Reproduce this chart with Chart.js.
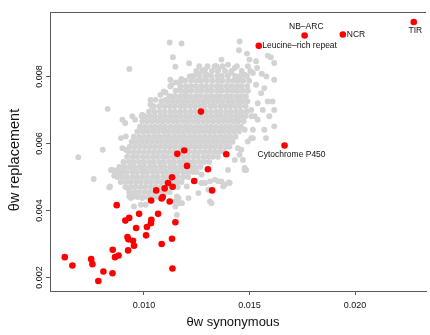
<!DOCTYPE html>
<html>
<head>
<meta charset="utf-8">
<script src="https://cdn.jsdelivr.net/npm/chart.js@4"></script>
<style>
  html, body { margin: 0; padding: 0; background: #fff; }
  #wrap { width: 430px; height: 335px; }
</style>
</head>
<body>
<div id="wrap"><canvas id="plot" width="430" height="335"></canvas></div>
<script>
// theta_w at synonymous vs replacement sites, one point per gene family
const xTicks = [0.010, 0.015, 0.020];
const yTicks = [0.002, 0.004, 0.006, 0.008];

// dense body of the background cloud, one row per replacement level
const coreY = [0.00830, 0.00816, 0.00801, 0.00787, 0.00771, 0.00757, 0.00741, 0.00726, 0.00711,
  0.00695, 0.00681, 0.00666, 0.00650, 0.00636, 0.00620, 0.00605, 0.00590, 0.00575, 0.00560,
  0.00545, 0.00530, 0.00515, 0.00500, 0.00485, 0.00470, 0.00455, 0.00440];
const coreX = [
  [0.01262, 0.01301, 0.01335, 0.01372, 0.01440, 0.01492],
  [0.01248, 0.01276, 0.01322, 0.01350, 0.01384, 0.01415, 0.01463, 0.01504],
  [0.01233, 0.01262, 0.01290, 0.01318, 0.01347, 0.01369, 0.01398, 0.01432, 0.01456, 0.01488],
  [0.01196, 0.01224, 0.01250, 0.01272, 0.01298, 0.01325, 0.01351, 0.01372, 0.01399, 0.01424, 0.01447, 0.01470, 0.01498],
  [0.01172, 0.01198, 0.01221, 0.01245, 0.01270, 0.01293, 0.01318, 0.01344, 0.01365, 0.01390, 0.01414, 0.01440, 0.01462, 0.01489],
  [0.01150, 0.01176, 0.01203, 0.01226, 0.01252, 0.01275, 0.01300, 0.01322, 0.01348, 0.01370, 0.01396, 0.01421, 0.01443, 0.01468, 0.01492],
  [0.01121, 0.01148, 0.01172, 0.01197, 0.01219, 0.01244, 0.01266, 0.01292, 0.01315, 0.01339, 0.01361, 0.01388, 0.01410, 0.01436, 0.01458, 0.01483],
  [0.01083, 0.01110, 0.01136, 0.01160, 0.01184, 0.01206, 0.01232, 0.01255, 0.01280, 0.01302, 0.01327, 0.01350, 0.01373, 0.01399, 0.01421, 0.01446, 0.01468, 0.01490],
  [0.01045, 0.01072, 0.01097, 0.01122, 0.01145, 0.01171, 0.01193, 0.01218, 0.01241, 0.01266, 0.01288, 0.01314, 0.01336, 0.01362, 0.01385, 0.01409, 0.01433, 0.01455, 0.01482],
  [0.01024, 0.01050, 0.01076, 0.01099, 0.01125, 0.01148, 0.01173, 0.01197, 0.01222, 0.01245, 0.01294, 0.01318, 0.01343, 0.01365, 0.01390, 0.01413, 0.01438, 0.01461, 0.01486],
  [0.01003, 0.01028, 0.01052, 0.01078, 0.01101, 0.01126, 0.01150, 0.01173, 0.01198, 0.01220, 0.01246, 0.01268, 0.01293, 0.01316, 0.01340, 0.01364, 0.01388, 0.01411, 0.01436, 0.01458, 0.01480],
  [0.00992, 0.01016, 0.01040, 0.01065, 0.01088, 0.01112, 0.01137, 0.01160, 0.01185, 0.01208, 0.01233, 0.01256, 0.01281, 0.01304, 0.01328, 0.01353, 0.01376, 0.01400, 0.01424, 0.01447, 0.01472],
  [0.00981, 0.01005, 0.01030, 0.01054, 0.01078, 0.01100, 0.01125, 0.01150, 0.01172, 0.01197, 0.01221, 0.01246, 0.01269, 0.01293, 0.01317, 0.01341, 0.01365, 0.01389, 0.01412, 0.01437, 0.01460],
  [0.00969, 0.00994, 0.01018, 0.01043, 0.01066, 0.01091, 0.01114, 0.01139, 0.01162, 0.01187, 0.01210, 0.01235, 0.01258, 0.01283, 0.01307, 0.01330, 0.01355, 0.01378, 0.01402, 0.01426, 0.01450],
  [0.00952, 0.00977, 0.01001, 0.01025, 0.01050, 0.01073, 0.01098, 0.01121, 0.01146, 0.01170, 0.01193, 0.01218, 0.01241, 0.01266, 0.01290, 0.01313, 0.01338, 0.01362, 0.01386, 0.01409, 0.01434],
  [0.00942, 0.00966, 0.00990, 0.01014, 0.01038, 0.01062, 0.01086, 0.01110, 0.01134, 0.01157, 0.01182, 0.01206, 0.01230, 0.01253, 0.01278, 0.01301, 0.01326, 0.01349, 0.01373, 0.01397, 0.01420],
  [0.00933, 0.00957, 0.00981, 0.01005, 0.01029, 0.01053, 0.01077, 0.01101, 0.01125, 0.01148, 0.01173, 0.01196, 0.01220, 0.01244, 0.01268, 0.01292, 0.01316, 0.01339, 0.01363, 0.01388, 0.01405],
  [0.00928, 0.00952, 0.00976, 0.01000, 0.01024, 0.01048, 0.01072, 0.01096, 0.01120, 0.01144, 0.01168, 0.01215, 0.01239, 0.01263, 0.01287, 0.01311, 0.01335, 0.01358, 0.01381],
  [0.00920, 0.00946, 0.00967, 0.00993, 0.01015, 0.01041, 0.01063, 0.01089, 0.01111, 0.01137, 0.01159, 0.01185, 0.01207, 0.01233, 0.01255, 0.01281, 0.01303, 0.01327, 0.01350],
  [0.00903, 0.00929, 0.00950, 0.00976, 0.00998, 0.01024, 0.01046, 0.01072, 0.01094, 0.01120, 0.01142, 0.01168, 0.01190, 0.01216, 0.01238, 0.01264, 0.01286, 0.01310],
  [0.00884, 0.00907, 0.00933, 0.00955, 0.00981, 0.01003, 0.01029, 0.01051, 0.01077, 0.01099, 0.01125, 0.01147, 0.01173, 0.01195, 0.01221, 0.01243, 0.01268],
  [0.00872, 0.00897, 0.00919, 0.00945, 0.00967, 0.00993, 0.01015, 0.01041, 0.01063, 0.01089, 0.01111, 0.01137, 0.01159, 0.01185, 0.01207, 0.01231, 0.01250],
  [0.00874, 0.00899, 0.00921, 0.00947, 0.00969, 0.00995, 0.01017, 0.01043, 0.01065, 0.01091, 0.01113, 0.01139, 0.01161, 0.01187, 0.01210],
  [0.00890, 0.00915, 0.00937, 0.00963, 0.00985, 0.01011, 0.01033, 0.01059, 0.01081, 0.01107, 0.01129, 0.01155, 0.01178],
  [0.00912, 0.00937, 0.00959, 0.00985, 0.01007, 0.01033, 0.01055, 0.01081, 0.01103, 0.01129, 0.01160],
  [0.00930, 0.00955, 0.00977, 0.01003, 0.01025, 0.01051, 0.01073, 0.01099, 0.01122],
  [0.00945, 0.00970, 0.00992, 0.01018, 0.01040, 0.01065]
];

// loose background genes around the cloud and along its ragged edge
const scatterX = [0.01122, 0.01178, 0.01137, 0.01214, 0.01149, 0.00931, 0.01125, 0.01177, 0.01217, 0.01256,
  0.01130, 0.00828, 0.00689, 0.00805, 0.00911, 0.00914, 0.00958, 0.00992, 0.01031, 0.01042,
  0.01094, 0.01102, 0.01133, 0.01172, 0.00762, 0.00836, 0.00875, 0.00922, 0.00953, 0.00938,
  0.00992, 0.01008, 0.01149, 0.01164, 0.01156, 0.01273, 0.01313, 0.01336, 0.01484, 0.01406,
  0.01375, 0.01352, 0.01320, 0.01156, 0.01172, 0.01469, 0.01453, 0.01445, 0.01508, 0.01578,
  0.01492, 0.01273, 0.01289, 0.01313, 0.01453, 0.01450, 0.01488, 0.01500, 0.01531, 0.01536,
  0.01586, 0.01601, 0.01617, 0.01580, 0.01617, 0.01558, 0.01516, 0.01531, 0.01570, 0.01555,
  0.01586, 0.01563, 0.01609, 0.01617, 0.01594, 0.01617, 0.01508, 0.01539, 0.01508, 0.01539,
  0.01570, 0.00844, 0.00839, 0.00898, 0.00989, 0.01039, 0.01102, 0.01151, 0.01195, 0.01383,
  0.01402, 0.01477, 0.01516, 0.01477, 0.01297, 0.01344, 0.01367, 0.01398, 0.01413,
  0.00898, 0.00945, 0.00891, 0.00914, 0.00851, 0.00859, 0.00891, 0.00930, 0.00953, 0.00985,
  0.01055, 0.01078, 0.01031, 0.01125, 0.01172, 0.01226, 0.01289, 0.01352, 0.01430, 0.01477,
  0.01524, 0.01516, 0.01461, 0.01430, 0.01398, 0.01477, 0.01367, 0.01305, 0.01258, 0.01211,
  0.01180, 0.01149, 0.01203];
const scatterY = [0.00901, 0.00898, 0.00857, 0.00839, 0.00829, 0.00822, 0.00790, 0.00792, 0.00800, 0.00808,
  0.00774, 0.00703, 0.00559, 0.00581, 0.00661, 0.00621, 0.00671, 0.00686, 0.00730, 0.00710,
  0.00755, 0.00730, 0.00740, 0.00760, 0.00494, 0.00469, 0.00521, 0.00467, 0.00452, 0.00437,
  0.00437, 0.00417, 0.00427, 0.00437, 0.00387, 0.00482, 0.00427, 0.00492, 0.00521, 0.00482,
  0.00472, 0.00487, 0.00422, 0.00442, 0.00422, 0.00551, 0.00566, 0.00586, 0.00616, 0.00616,
  0.00606, 0.00507, 0.00482, 0.00487, 0.00904, 0.00878, 0.00868, 0.00850, 0.00845, 0.00825,
  0.00862, 0.00857, 0.00840, 0.00800, 0.00790, 0.00808, 0.00810, 0.00775, 0.00765, 0.00750,
  0.00725, 0.00700, 0.00725, 0.00700, 0.00681, 0.00651, 0.00700, 0.00720, 0.00681, 0.00671,
  0.00641, 0.00521, 0.00472, 0.00586, 0.00681, 0.00709, 0.00752, 0.00782, 0.00755, 0.00477,
  0.00484, 0.00521, 0.00616, 0.00641, 0.00805, 0.00830, 0.00850, 0.00835, 0.00811,
  0.00671, 0.00681, 0.00616, 0.00581, 0.00521, 0.00504, 0.00512, 0.00442, 0.00412, 0.00417,
  0.00730, 0.00745, 0.00716, 0.00770, 0.00785, 0.00800, 0.00820, 0.00820, 0.00825, 0.00805,
  0.00681, 0.00641, 0.00581, 0.00551, 0.00521, 0.00527, 0.00487, 0.00462, 0.00452, 0.00437,
  0.00422, 0.00412, 0.00472];

// highlighted families (red)
const redX = [0.00625, 0.00661, 0.00750, 0.00756, 0.00784, 0.00808, 0.00851, 0.00852, 0.00863, 0.00880,
  0.00871, 0.00912, 0.00930, 0.00922, 0.00926, 0.00925, 0.00948, 0.00953, 0.00963, 0.00977,
  0.01010, 0.01014, 0.01033, 0.01035, 0.01034, 0.01058, 0.01067, 0.01084, 0.01084, 0.01089,
  0.01098, 0.01114, 0.01122, 0.01133, 0.01135, 0.01133, 0.01136, 0.01149, 0.01204, 0.01238,
  0.01303, 0.01323, 0.01270, 0.01158, 0.01191, 0.01390];
const redY = [0.00261, 0.00236, 0.00255, 0.00240, 0.00190, 0.00218, 0.00213, 0.00283, 0.00261, 0.00266,
  0.00416, 0.00370, 0.00378, 0.00321, 0.00314, 0.00281, 0.00310, 0.00295, 0.00348, 0.00390,
  0.00326, 0.00351, 0.00362, 0.00372, 0.00430, 0.00460, 0.00390, 0.00300, 0.00436, 0.00440,
  0.00466, 0.00482, 0.00427, 0.00316, 0.00227, 0.00499, 0.00471, 0.00365, 0.00533, 0.00488,
  0.00523, 0.00460, 0.00695, 0.00569, 0.00579, 0.00568];

const namedGenes = ['Leucine\u2013rich repeat', 'NB\u2013ARC', 'NCR', 'TIR', 'Cytochrome P450'];
const namedX = [0.01544, 0.01761, 0.01942, 0.02278, 0.01666];
const namedY = [0.00891, 0.00922, 0.00925, 0.00962, 0.00594];

const axisColor = '#5a5a5a';
const textColor = '#111';
const fontFamily = '"Liberation Sans", Arial, Helvetica, sans-serif';

// where each gene name sits relative to its dot
const nameStyle = [
  { dx: 3.5, dy: 0, align: 'left' },
  { dx: 1.7, dy: -8.5, align: 'center' },
  { dx: 4, dy: 0, align: 'left' },
  { dx: 1.6, dy: 9, align: 'center' },
  { dx: 7, dy: 9, align: 'center' }
];

const greyPoints = coreY.flatMap((y, i) => coreX[i].map(x => ({ x, y })))
  .concat(scatterX.map((x, i) => ({ x, y: scatterY[i] })));
const redPoints = redX.map((x, i) => ({ x, y: redY[i] }));
const namedPoints = namedX.map((x, i) => ({ x, y: namedY[i] }));

const decorations = {
  id: 'decorations',
  afterDatasetsDraw(chart) {
    const { ctx, chartArea } = chart;
    ctx.save();

    // top edge of the box; left and bottom come from the axes
    const t = Math.round(chartArea.top) + 0.5;
    ctx.strokeStyle = axisColor;
    ctx.lineWidth = 1;
    ctx.beginPath();
    ctx.moveTo(chartArea.left, t);
    ctx.lineTo(chartArea.right, t);
    ctx.stroke();

    // gene names
    ctx.fillStyle = textColor;
    ctx.font = '8.5px ' + fontFamily;
    ctx.textBaseline = 'middle';
    chart.getDatasetMeta(0).data.forEach((pt, i) => {
      const s = nameStyle[i];
      ctx.textAlign = s.align;
      ctx.fillText(namedGenes[i], pt.x + s.dx, pt.y + s.dy);
    });

    // axis titles
    ctx.font = '13px ' + fontFamily;
    ctx.textAlign = 'center';
    ctx.fillText('\u03b8w synonymous', chartArea.left + 183, 322);
    ctx.save();
    ctx.translate(15, (chartArea.top + chartArea.bottom) / 2 + 8.5);
    ctx.rotate(-Math.PI / 2);
    ctx.font = '14.5px ' + fontFamily;
    ctx.fillText('\u03b8w replacement', 0, 0);
    ctx.restore();

    ctx.restore();
  }
};

new Chart(document.getElementById('plot'), {
  type: 'scatter',
  data: {
    datasets: [
      { data: namedPoints, backgroundColor: '#ff0000', pointRadius: 3.3, borderWidth: 0, order: 0 },
      { data: redPoints, backgroundColor: '#ff0000', pointRadius: 3.3, borderWidth: 0, order: 1 },
      { data: greyPoints, backgroundColor: '#d3d3d3', pointRadius: 2.95, borderWidth: 0, order: 2 }
    ]
  },
  options: {
    responsive: false,
    animation: false,
    events: [],
    layout: { padding: { top: 12, right: 0, bottom: 0, left: 0 } },
    plugins: { legend: { display: false }, tooltip: { enabled: false } },
    scales: {
      x: {
        type: 'linear',
        min: 0.00555,
        max: 0.02336,
        afterBuildTicks: s => { s.ticks = xTicks.map(v => ({ value: v })); },
        afterFit: s => { s.height = 44; },
        grid: { display: true, drawOnChartArea: false, drawTicks: true, tickLength: 4, color: axisColor },
        border: { display: true, color: axisColor, width: 1 },
        ticks: {
          color: textColor,
          font: { family: fontFamily, size: 9 },
          padding: 5,
          maxRotation: 0,
          callback: v => v.toFixed(3)
        }
      },
      y: {
        type: 'linear',
        min: 0.0016,
        max: 0.00992,
        afterBuildTicks: s => { s.ticks = yTicks.map(v => ({ value: v })); },
        afterFit: s => { s.width = 50; },
        grid: { display: true, drawOnChartArea: false, drawTicks: true, tickLength: 4, color: axisColor },
        border: { display: true, color: axisColor, width: 1 },
        ticks: {
          color: textColor,
          font: { family: fontFamily, size: 9 },
          minRotation: 90,
          maxRotation: 90,
          crossAlign: 'center',
          padding: -5,
          callback: v => v.toFixed(3)
        }
      }
    }
  },
  plugins: [decorations]
});
</script>
</body>
</html>
